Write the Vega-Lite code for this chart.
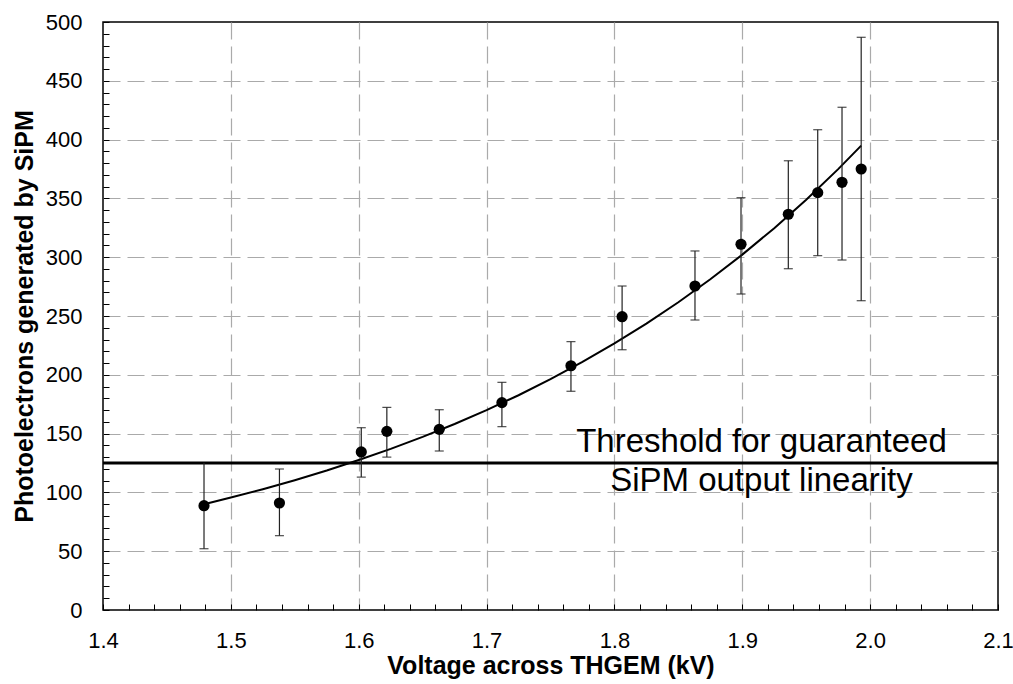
{
  "$schema": "https://vega.github.io/schema/vega-lite/v6.json",
  "autosize": "none",
  "width": 895,
  "height": 588,
  "padding": {"left": 103, "top": 22, "right": 15, "bottom": 74},
  "background": "white",
  "config": {
    "view": {"stroke": "black", "strokeWidth": 1.5},
    "font": "Liberation Sans"
  },
  "datasets": {
    "points": [
      {"v": 1.479, "pe": 88.7, "lo": 52.1, "hi": 125.3},
      {"v": 1.538, "pe": 91.0, "lo": 63.2, "hi": 119.9},
      {"v": 1.602, "pe": 134.4, "lo": 113.0, "hi": 155.0},
      {"v": 1.622, "pe": 151.9, "lo": 130.0, "hi": 172.3},
      {"v": 1.663, "pe": 153.6, "lo": 135.2, "hi": 170.3},
      {"v": 1.712, "pe": 176.3, "lo": 155.9, "hi": 193.6},
      {"v": 1.766, "pe": 207.7, "lo": 186.0, "hi": 228.2},
      {"v": 1.806, "pe": 249.4, "lo": 221.3, "hi": 275.5},
      {"v": 1.863, "pe": 275.5, "lo": 246.6, "hi": 305.3},
      {"v": 1.899, "pe": 311.0, "lo": 268.7, "hi": 350.6},
      {"v": 1.936, "pe": 336.5, "lo": 290.2, "hi": 382.0},
      {"v": 1.959, "pe": 354.9, "lo": 301.3, "hi": 408.4},
      {"v": 1.978, "pe": 363.7, "lo": 297.6, "hi": 427.5},
      {"v": 1.993, "pe": 375.0, "lo": 263.0, "hi": 487.0}
    ],
    "curve": [
      {"v": 1.479, "fit": 90.0},
      {"v": 1.5, "fit": 95.6},
      {"v": 1.525, "fit": 102.7},
      {"v": 1.55, "fit": 110.4},
      {"v": 1.575, "fit": 118.6},
      {"v": 1.6, "fit": 127.5},
      {"v": 1.625, "fit": 137.0},
      {"v": 1.65, "fit": 147.2},
      {"v": 1.675, "fit": 158.2},
      {"v": 1.7, "fit": 170.0},
      {"v": 1.725, "fit": 182.6},
      {"v": 1.75, "fit": 196.3},
      {"v": 1.775, "fit": 210.9},
      {"v": 1.8, "fit": 226.7},
      {"v": 1.825, "fit": 243.5},
      {"v": 1.85, "fit": 261.7},
      {"v": 1.875, "fit": 281.2},
      {"v": 1.9, "fit": 302.2},
      {"v": 1.925, "fit": 324.7},
      {"v": 1.95, "fit": 348.9},
      {"v": 1.975, "fit": 374.9},
      {"v": 1.993, "fit": 394.9}
    ],
    "threshold": [
      {"level": 125, "label": "Threshold for guaranteed\nSiPM output linearity"}
    ]
  },
  "resolve": {"axis": {"x": "independent", "y": "independent"}},
  "layer": [
    {
      "data": {"name": "curve"},
      "mark": {"type": "line", "color": "black", "strokeWidth": 2},
      "encoding": {
        "x": {
          "field": "v", "type": "quantitative",
          "scale": {"domain": [1.4, 2.1], "nice": false, "zero": false},
          "axis": {"orient": "bottom", "values": [1.5, 1.6, 1.7, 1.8, 1.9, 2.0], "grid": true, "gridColor": "#aaaaaa", "gridWidth": 1.2, "gridDash": [17, 7], "ticks": false, "labels": false, "domain": false, "title": null}
        },
        "y": {
          "field": "fit", "type": "quantitative",
          "scale": {"domain": [0, 500], "nice": false},
          "axis": {"orient": "left", "values": [50, 100, 150, 200, 250, 300, 350, 400, 450], "grid": true, "gridColor": "#aaaaaa", "gridWidth": 1.2, "gridDash": [17, 7], "ticks": false, "labels": false, "domain": false, "title": null}
        }
      }
    },
    {
      "data": {"name": "threshold"},
      "mark": {"type": "rule", "color": "black", "strokeWidth": 3},
      "encoding": {"y": {"field": "level", "type": "quantitative", "axis": null}}
    },
    {
      "data": {"name": "points"},
      "mark": {"type": "errorbar", "color": "#222", "thickness": 1.2, "ticks": {"size": 9, "color": "black"}},
      "encoding": {
        "x": {"field": "v", "type": "quantitative", "axis": null},
        "y": {"field": "lo", "type": "quantitative", "axis": null},
        "y2": {"field": "hi"}
      }
    },
    {
      "data": {"name": "points"},
      "mark": {"type": "circle", "color": "black", "opacity": 1, "size": 125},
      "encoding": {
        "x": {
          "field": "v", "type": "quantitative",
          "axis": {
            "orient": "bottom",
            "zindex": 2,
            "title": null,
            "grid": false,
            "labels": false,
            "domainOpacity": 0,
            "values": [1.4, 1.42, 1.44, 1.46, 1.48, 1.5, 1.52, 1.54, 1.56, 1.58, 1.6, 1.62, 1.64, 1.66, 1.68, 1.7, 1.72, 1.74, 1.76, 1.78, 1.8, 1.82, 1.84, 1.86, 1.88, 1.9, 1.92, 1.94, 1.96, 1.98, 2.0, 2.02, 2.04, 2.06, 2.08, 2.1],
            "offset": -6,
            "ticks": true,
            "tickSize": 6,
            "tickColor": "black",
            "tickOpacity": 1,
            "tickWidth": 1
          }
        },
        "y": {
          "field": "pe", "type": "quantitative",
          "axis": {
            "orient": "left",
            "zindex": 2,
            "title": null,
            "grid": false,
            "labels": false,
            "domain": false,
            "values": [0, 10, 20, 30, 40, 50, 60, 70, 80, 90, 100, 110, 120, 130, 140, 150, 160, 170, 180, 190, 200, 210, 220, 230, 240, 250, 260, 270, 280, 290, 300, 310, 320, 330, 340, 350, 360, 370, 380, 390, 400, 410, 420, 430, 440, 450, 460, 470, 480, 490, 500],
            "offset": -6,
            "ticks": true,
            "tickSize": 6,
            "tickColor": "black",
            "tickOpacity": 1,
            "tickWidth": 1
          }
        }
      }
    },
    {
      "data": {"name": "points"},
      "mark": {"type": "circle", "color": "black", "opacity": 0, "size": 125},
      "encoding": {
        "x": {
          "field": "v", "type": "quantitative",
          "axis": {
            "orient": "bottom",
            "title": "Voltage across THGEM (kV)",
            "titleFont": "Liberation Sans",
            "titleFontSize": 25,
            "titleFontWeight": "bold",
            "titleColor": "black",
            "grid": false,
            "ticks": false,
            "domain": false,
            "values": [1.4, 1.5, 1.6, 1.7, 1.8, 1.9, 2.0, 2.1],
            "format": ".1f",
            "labelFont": "Liberation Sans",
            "labelFontSize": 22,
            "labelColor": "black",
            "labelPadding": 20,
            "labelFlush": false,
            "titlePadding": 2
          }
        },
        "y": {
          "field": "pe", "type": "quantitative",
          "axis": {
            "orient": "left",
            "title": "Photoelectrons generated by SiPM",
            "titleFont": "Liberation Sans",
            "titleFontSize": 25,
            "titleFontWeight": "bold",
            "titleColor": "black",
            "grid": false,
            "ticks": false,
            "domain": false,
            "values": [0, 50, 100, 150, 200, 250, 300, 350, 400, 450, 500],
            "labelFont": "Liberation Sans",
            "labelFontSize": 22,
            "labelColor": "black",
            "labelPadding": 21,
            "labelFlush": false,
            "titlePadding": 8
          }
        }
      }
    },
    {
      "data": {"name": "threshold"},
      "mark": {"type": "text", "font": "Liberation Sans", "fontSize": 33, "color": "black", "align": "center", "baseline": "alphabetic", "lineHeight": 39, "lineBreak": "\n"},
      "encoding": {
        "x": {"datum": 1.915, "type": "quantitative", "axis": null},
        "y": {"datum": 134.6, "type": "quantitative", "axis": null},
        "text": {"field": "label"}
      }
    }
  ]
}
